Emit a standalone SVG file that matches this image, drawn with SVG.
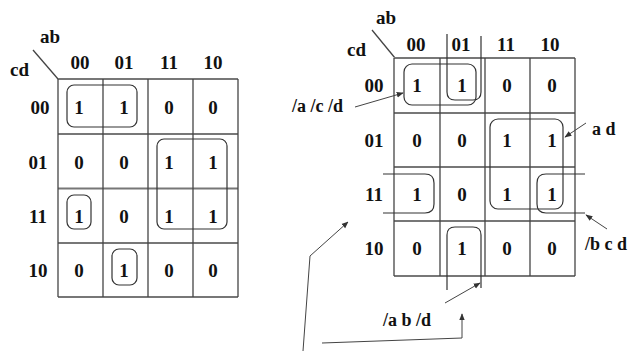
<svg xmlns="http://www.w3.org/2000/svg" width="634" height="351" viewBox="0 0 634 351">
  <style>
    .hgrid { stroke: #777; stroke-width: 2; }
    .vgrid { stroke: #444; stroke-width: 1.3; }
    .loop { fill: none; stroke: #333; stroke-width: 1.2; }
    .conn { fill: none; stroke: #444; stroke-width: 1; }
    .v { font-family: "Liberation Serif", "Times New Roman", serif; font-weight: bold; font-size: 19px; fill: #111; text-anchor: middle; }
    .lbl { font-family: "Liberation Serif", "Times New Roman", serif; font-weight: bold; font-size: 19px; fill: #111; }
    .note { font-family: "Liberation Serif", "Times New Roman", serif; font-weight: bold; font-size: 18px; fill: #111; }
  </style>
  <defs>
    <marker id="arrow" viewBox="0 0 10 10" refX="9" refY="5" markerWidth="7" markerHeight="7" orient="auto" markerUnits="userSpaceOnUse">
      <path d="M0,1 L10,5 L0,9 Z" fill="#333"/>
    </marker>
  </defs>
  <rect width="634" height="351" fill="#fff"/>

  <!-- Left Karnaugh map -->
  <g id="map-left">
    <line class="vgrid" x1="33" y1="50" x2="58" y2="79"/>
    <text class="lbl" x="40" y="43">ab</text>
    <text class="lbl" x="10" y="76">cd</text>
    <g class="v">
      <text x="80" y="69">00</text><text x="124" y="69">01</text><text x="169" y="69">11</text><text x="213" y="69">10</text>
      <text x="40" y="114">00</text><text x="38" y="169">01</text><text x="38" y="223">11</text><text x="38" y="277">10</text>
    </g>
    <g>
      <line class="hgrid" x1="58" y1="79" x2="238" y2="79"/>
      <line class="hgrid" x1="58" y1="134" x2="238" y2="134"/>
      <line class="hgrid" x1="58" y1="188.5" x2="238" y2="188.5"/>
      <line class="hgrid" x1="58" y1="243" x2="238" y2="243"/>
      <line class="hgrid" x1="58" y1="297" x2="238" y2="297"/>
      <line class="vgrid" x1="58" y1="79" x2="58" y2="297"/>
      <line class="vgrid" x1="103" y1="79" x2="103" y2="297"/>
      <line class="vgrid" x1="148" y1="79" x2="148" y2="297"/>
      <line class="vgrid" x1="193" y1="79" x2="193" y2="297"/>
      <line class="vgrid" x1="238" y1="79" x2="238" y2="297"/>
    </g>
    <g class="v">
      <text x="79" y="114">1</text><text x="124" y="114">1</text><text x="169" y="114">0</text><text x="213" y="114">0</text>
      <text x="79" y="169">0</text><text x="124" y="169">0</text><text x="169" y="169">1</text><text x="213" y="169">1</text>
      <text x="79" y="223">1</text><text x="124" y="223">0</text><text x="169" y="223">1</text><text x="213" y="223">1</text>
      <text x="79" y="277">0</text><text x="124" y="277">1</text><text x="169" y="277">0</text><text x="213" y="277">0</text>
    </g>
    <rect class="loop" x="67" y="85" width="70" height="42" rx="7"/>
    <rect class="loop" x="157" y="139" width="70" height="90" rx="7"/>
    <rect class="loop" x="67" y="195" width="24" height="34" rx="7"/>
    <rect class="loop" x="112" y="249" width="25" height="36" rx="7"/>
  </g>

  <!-- Right Karnaugh map with labelled groups -->
  <g id="map-right">
    <line class="vgrid" x1="372" y1="30" x2="395" y2="58"/>
    <text class="lbl" x="376" y="24">ab</text>
    <text class="lbl" x="347" y="56">cd</text>
    <g class="v">
      <text x="416" y="51">00</text><text x="461" y="51">01</text><text x="506" y="51">11</text><text x="550" y="51">10</text>
      <text x="374" y="92">00</text><text x="374" y="147">01</text><text x="374" y="201">11</text><text x="374" y="255">10</text>
    </g>
    <g>
      <line class="hgrid" x1="394" y1="58" x2="575" y2="58"/>
      <line class="hgrid" x1="394" y1="113" x2="575" y2="113"/>
      <line class="hgrid" x1="394" y1="167" x2="575" y2="167"/>
      <line class="hgrid" x1="394" y1="221" x2="575" y2="221"/>
      <line class="hgrid" x1="394" y1="276" x2="575" y2="276"/>
      <line class="vgrid" x1="394" y1="58" x2="394" y2="276"/>
      <line class="vgrid" x1="440" y1="58" x2="440" y2="276"/>
      <line class="vgrid" x1="485" y1="58" x2="485" y2="276"/>
      <line class="vgrid" x1="530" y1="58" x2="530" y2="276"/>
      <line class="vgrid" x1="575" y1="58" x2="575" y2="276"/>
    </g>
    <g class="v">
      <text x="417" y="92">1</text><text x="462" y="92">1</text><text x="507" y="92">0</text><text x="552" y="92">0</text>
      <text x="417" y="147">0</text><text x="462" y="147">0</text><text x="507" y="147">1</text><text x="552" y="147">1</text>
      <text x="417" y="201">1</text><text x="462" y="201">0</text><text x="507" y="201">1</text><text x="552" y="201">1</text>
      <text x="417" y="255">0</text><text x="462" y="255">1</text><text x="507" y="255">0</text><text x="552" y="255">0</text>
    </g>
    <!-- /a /c /d -->
    <rect class="loop" x="404" y="64" width="72" height="41" rx="8"/>
    <!-- /a b /d wraps top to bottom in column 01 -->
    <path class="loop" d="M447,34 V92 Q447,100 455,100 H473 Q481,100 481,92 V36"/>
    <path class="loop" d="M447,290 V235 Q447,227 455,227 H473 Q481,227 481,235 V288"/>
    <!-- a d -->
    <rect class="loop" x="490" y="119" width="73" height="90" rx="8"/>
    <!-- /b c d wraps left to right in row 11 -->
    <path class="loop" d="M383,174 H425 Q434,174 434,183 V204 Q434,213 425,213 H383"/>
    <path class="loop" d="M585,174 H546 Q537,174 537,183 V204 Q537,213 546,213 H585"/>
  </g>

  <g id="labels">
    <text class="note" x="292" y="112">/a /c /d</text>
    <text class="note" x="592" y="135">a d</text>
    <text class="note" x="585" y="250">/b c d</text>
    <text class="note" x="383" y="326">/a b /d</text>
  </g>

  <g id="connectors">
    <line class="conn" x1="355" y1="107" x2="403" y2="93" marker-end="url(#arrow)"/>
    <line class="conn" x1="586" y1="123" x2="565" y2="137" marker-end="url(#arrow)"/>
    <line class="conn" x1="607" y1="229" x2="586" y2="215" marker-end="url(#arrow)"/>
    <line class="conn" x1="445" y1="303" x2="480" y2="283" marker-end="url(#arrow)"/>
    <polyline class="conn" points="322,343 462,338 462,314" marker-end="url(#arrow)"/>
    <polyline class="conn" points="303,351 310,256 348,222" marker-end="url(#arrow)"/>
  </g>
</svg>
